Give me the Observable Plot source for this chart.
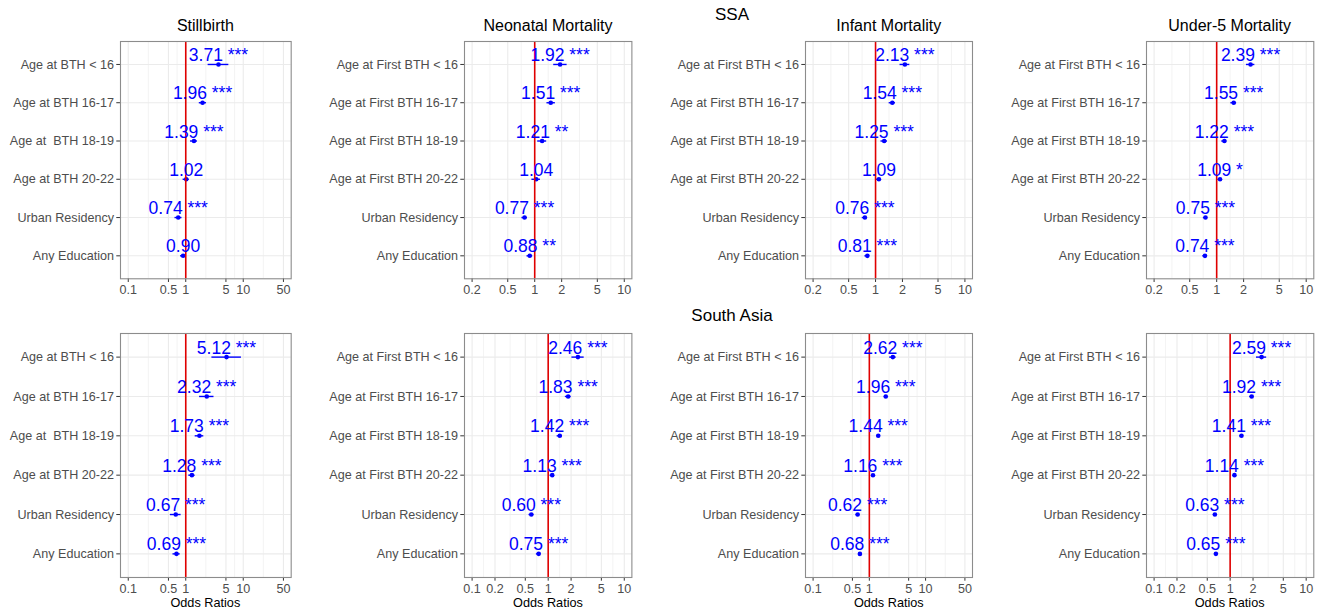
<!DOCTYPE html>
<html>
<head>
<meta charset="utf-8">
<script src="https://cdn.jsdelivr.net/npm/d3@7"></script>
<script src="https://cdn.jsdelivr.net/npm/@observablehq/plot@0.6"></script>
<style>
  html, body { margin: 0; padding: 0; background: #ffffff; }
  #wrap { position: relative; width: 1322px; height: 613px; overflow: hidden; background: #fff; }
  #wrap svg { position: absolute; overflow: visible; }
  #wrap svg text { white-space: pre; }
</style>
</head>
<body>
<div id="wrap"></div>
<script>
const FONT = "'Liberation Sans', Arial, Helvetica, sans-serif";

// ---------- data ----------
const regions = ["SSA", "South Asia"];
const outcomes = ["Stillbirth", "Neonatal Mortality", "Infant Mortality", "Under-5 Mortality"];

const stillCats = ["Age at BTH < 16", "Age at BTH 16-17", "Age at  BTH 18-19", "Age at BTH 20-22", "Urban Residency", "Any Education"];
const otherCats = ["Age at First BTH < 16", "Age at First BTH 16-17", "Age at First BTH 18-19", "Age at First BTH 20-22", "Urban Residency", "Any Education"];

// SSA
const ssaStillOR  = [3.71, 1.96, 1.39, 1.02, 0.74, 0.90];
const ssaStillLo  = [2.45, 1.72, 1.21, 0.90, 0.65, 0.81];
const ssaStillHi  = [5.62, 2.30, 1.60, 1.15, 0.86, 1.00];
const ssaStillSig = ["***", "***", "***", "", "***", ""];

const ssaNeoOR  = [1.92, 1.51, 1.21, 1.04, 0.77, 0.88];
const ssaNeoLo  = [1.63, 1.37, 1.08, 0.93, 0.72, 0.82];
const ssaNeoHi  = [2.30, 1.70, 1.36, 1.16, 0.83, 0.95];
const ssaNeoSig = ["***", "***", "**", "", "***", "**"];

const ssaInfOR  = [2.13, 1.54, 1.25, 1.09, 0.76, 0.81];
const ssaInfLo  = [1.88, 1.42, 1.15, 1.02, 0.71, 0.76];
const ssaInfHi  = [2.42, 1.67, 1.36, 1.16, 0.81, 0.86];
const ssaInfSig = ["***", "***", "***", "", "***", "***"];

const ssaU5OR  = [2.39, 1.55, 1.22, 1.09, 0.75, 0.74];
const ssaU5Lo  = [2.15, 1.44, 1.14, 1.03, 0.71, 0.70];
const ssaU5Hi  = [2.67, 1.67, 1.30, 1.16, 0.79, 0.78];
const ssaU5Sig = ["***", "***", "***", "*", "***", "***"];

// South Asia
const saStillOR  = [5.12, 2.32, 1.73, 1.28, 0.67, 0.69];
const saStillLo  = [2.85, 1.74, 1.46, 1.13, 0.54, 0.60];
const saStillHi  = [9.30, 3.10, 2.06, 1.45, 0.83, 0.80];
const saStillSig = ["***", "***", "***", "***", "***", "***"];

const saNeoOR  = [2.46, 1.83, 1.42, 1.13, 0.60, 0.75];
const saNeoLo  = [2.05, 1.68, 1.31, 1.06, 0.56, 0.70];
const saNeoHi  = [2.97, 2.00, 1.54, 1.21, 0.65, 0.80];
const saNeoSig = ["***", "***", "***", "***", "***", "***"];

const saInfOR  = [2.62, 1.96, 1.44, 1.16, 0.62, 0.68];
const saInfLo  = [2.30, 1.84, 1.37, 1.11, 0.58, 0.64];
const saInfHi  = [3.00, 2.09, 1.52, 1.21, 0.66, 0.72];
const saInfSig = ["***", "***", "***", "***", "***", "***"];

const saU5OR  = [2.59, 1.92, 1.41, 1.14, 0.63, 0.65];
const saU5Lo  = [2.22, 1.81, 1.34, 1.09, 0.60, 0.62];
const saU5Hi  = [3.02, 2.04, 1.48, 1.19, 0.66, 0.68];
const saU5Sig = ["***", "***", "***", "***", "***", "***"];

// axis breaks and limits
const breaksWide   = [0.1, 0.5, 1, 5, 10, 50];
const breaksNarrow = [0.2, 0.5, 1, 2, 5, 10];
const breaksFull   = [0.1, 0.2, 0.5, 1, 2, 5, 10];
const limitsWide   = [0.1, 50];
const limitsNarrow = [0.2, 10];
const limitsFull   = [0.1, 10];
const xAxisTitle = "Odds Ratios";

// ---------- panels ----------
const panels = [
  {row: 0, col: 0, cats: stillCats, or: ssaStillOR, lo: ssaStillLo, hi: ssaStillHi, sig: ssaStillSig, breaks: breaksWide,   limits: limitsWide},
  {row: 0, col: 1, cats: otherCats, or: ssaNeoOR,   lo: ssaNeoLo,   hi: ssaNeoHi,   sig: ssaNeoSig,   breaks: breaksNarrow, limits: limitsNarrow},
  {row: 0, col: 2, cats: otherCats, or: ssaInfOR,   lo: ssaInfLo,   hi: ssaInfHi,   sig: ssaInfSig,   breaks: breaksNarrow, limits: limitsNarrow},
  {row: 0, col: 3, cats: otherCats, or: ssaU5OR,    lo: ssaU5Lo,    hi: ssaU5Hi,    sig: ssaU5Sig,    breaks: breaksNarrow, limits: limitsNarrow},
  {row: 1, col: 0, cats: stillCats, or: saStillOR,  lo: saStillLo,  hi: saStillHi,  sig: saStillSig,  breaks: breaksWide,   limits: limitsWide},
  {row: 1, col: 1, cats: otherCats, or: saNeoOR,    lo: saNeoLo,    hi: saNeoHi,    sig: saNeoSig,    breaks: breaksFull,   limits: limitsFull},
  {row: 1, col: 2, cats: otherCats, or: saInfOR,    lo: saInfLo,    hi: saInfHi,    sig: saInfSig,    breaks: breaksWide,   limits: limitsWide},
  {row: 1, col: 3, cats: otherCats, or: saU5OR,     lo: saU5Lo,     hi: saU5Hi,     sig: saU5Sig,     breaks: breaksFull,   limits: limitsFull}
];

// layout (page pixel positions of each panel frame)
const colFrames = [[120, 290.7], [464.3, 631.7], [805.3, 972.3], [1146, 1313.3]];
const rowFrames = [[41, 278.3], [332.7, 576.7]];
const mL = 150, mR = 12, mT = 8, mB = 26;
const TICK = 3.7, TICKPAD = 2.8, AXFONT = 12.6, AXCOLOR = "#4D4D4D", TICKCOLOR = "#333333";

const wrap = document.getElementById("wrap");

for (const p of panels) {
  const [fx0, fx1] = colFrames[p.col];
  const [fy0, fy1] = rowFrames[p.row];
  const fw = fx1 - fx0, fh = fy1 - fy0;
  const W = mL + fw + mR;
  const H = mT + fh + mB;

  const l0 = Math.log10(p.limits[0]), l1 = Math.log10(p.limits[1]);
  const span = l1 - l0;
  const domain = [Math.pow(10, l0 - 0.05 * span), Math.pow(10, l1 + 0.05 * span)];

  // ggplot-style minor breaks: midpoints (log space) between major breaks
  const lb = p.breaks.map(Math.log10);
  const ext = [lb[0] - (lb[1] - lb[0]), ...lb, lb[lb.length - 1] + (lb[lb.length - 1] - lb[lb.length - 2])];
  const minor = [];
  for (let i = 0; i < ext.length - 1; i++) {
    const v = Math.pow(10, (ext[i] + ext[i + 1]) / 2);
    if (v > domain[0] && v < domain[1]) minor.push(v);
  }

  const rows = p.cats.map((c, i) => ({cat: c, or: p.or[i], lo: p.lo[i], hi: p.hi[i], sig: p.sig[i]}));

  const chart = Plot.plot({
    width: W,
    height: H,
    marginLeft: mL,
    marginRight: mR,
    marginTop: mT,
    marginBottom: mB,
    style: {fontFamily: FONT, fontSize: AXFONT + "px", color: AXCOLOR, background: "transparent", overflow: "visible"},
    x: {type: "log", domain, axis: null},
    y: {type: "point", domain: p.cats, padding: 0.6, round: false, axis: null},
    marks: [
      // grid
      Plot.ruleX(minor, {stroke: "#EBEBEB", strokeWidth: 0.6}),
      Plot.ruleX(p.breaks, {stroke: "#EBEBEB", strokeWidth: 1.1}),
      Plot.ruleY(p.cats, {stroke: "#EBEBEB", strokeWidth: 1.1}),
      // x axis ticks + labels
      Plot.ruleX(p.breaks, {stroke: TICKCOLOR, strokeWidth: 1, insetTop: fh, insetBottom: -TICK}),
      Plot.text(p.breaks, {x: d => d, text: d => String(d), frameAnchor: "bottom", lineAnchor: "top",
        dy: TICK + TICKPAD, fill: AXCOLOR, fontSize: AXFONT}),
      // y axis ticks + labels
      Plot.ruleY(p.cats, {stroke: TICKCOLOR, strokeWidth: 1, insetLeft: -TICK, insetRight: fw}),
      Plot.text(p.cats, {y: d => d, text: d => d, frameAnchor: "left", textAnchor: "end",
        dx: -(TICK + TICKPAD), fill: AXCOLOR, fontSize: AXFONT}),
      // data
      Plot.ruleY(rows, {y: "cat", x1: "lo", x2: "hi", stroke: "#0000FF", strokeWidth: 1.4}),
      Plot.dot(rows, {x: "or", y: "cat", r: 2.3, fill: "#0000FF", stroke: "none"}),
      Plot.ruleX([1], {stroke: "#E00000", strokeWidth: 1.6}),
      Plot.text(rows, {
        x: "or", y: "cat",
        text: d => d.or.toFixed(2) + (d.sig ? " " + d.sig : ""),
        fill: "#0000FF", fontSize: 17.5, lineAnchor: "bottom", dy: -3.5, textAnchor: "middle"
      }),
      Plot.frame({stroke: "#8C8C8C", strokeWidth: 1.1})
    ]
  });
  chart.style.left = (fx0 - mL) + "px";
  chart.style.top = (fy0 - mT) + "px";
  wrap.appendChild(chart);
}

// ---------- titles ----------
const overlay = d3.select(wrap).append("svg")
  .attr("width", 1322).attr("height", 613)
  .style("left", "0px").style("top", "0px")
  .style("pointer-events", "none")
  .style("font-family", FONT);

const regionBaselines = [20, 320.7];
regions.forEach((r, i) => {
  overlay.append("text").attr("x", 732).attr("y", regionBaselines[i])
    .attr("text-anchor", "middle").attr("fill", "#000").attr("font-size", 17).text(r);
});
outcomes.forEach((o, i) => {
  const cx = (colFrames[i][0] + colFrames[i][1]) / 2;
  overlay.append("text").attr("x", cx).attr("y", 31)
    .attr("text-anchor", "middle").attr("fill", "#000").attr("font-size", 16).text(o);
  overlay.append("text").attr("x", cx).attr("y", 607)
    .attr("text-anchor", "middle").attr("fill", "#000").attr("font-size", 12.7).text(xAxisTitle);
});
</script>
</body>
</html>
